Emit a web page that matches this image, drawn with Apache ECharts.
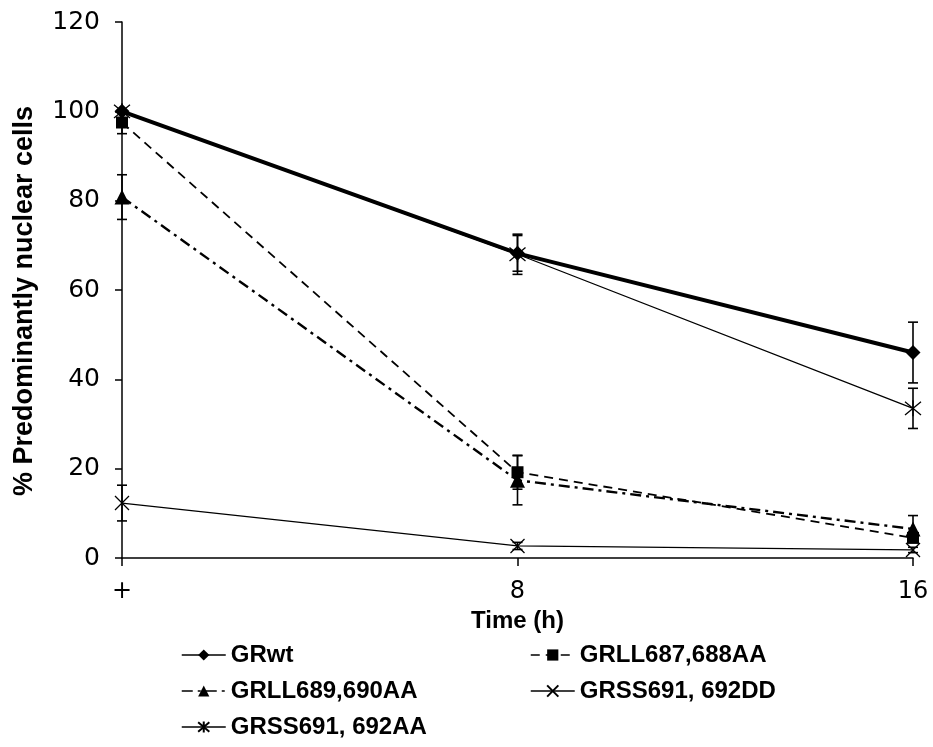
<!DOCTYPE html>
<html>
<head>
<meta charset="utf-8">
<script src="https://cdn.jsdelivr.net/npm/echarts@6/dist/echarts.min.js"></script>
<style>
html, body { margin: 0; padding: 0; background: #fff; }
#chart { width: 933px; height: 747px; }
</style>
</head>
<body>
<div id="chart"></div>
<script>
// time points (first one is the "+" control)
var times = ['+', '8', '16'];

// % predominantly nuclear cells, with +/- error
var grwt = [100, 68.2, 46];
var grwtErr = [0, 4, 6.8];
var grll687 = [97.5, 19.2, 4.5];
var grll687Err = [2.5, 3.8, 0];
var grll689 = [80.8, 17.4, 6.5];
var grll689Err = [5, 5.5, 3];
var grss691dd = [12.3, 2.7, 1.8];
var grss691ddErr = [4, 0.8, 0.6];
var grss691aa = [100, 68, 33.5];
var grss691aaErr = [0, 4.5, 4.5];

var FONT = 'Liberation Sans';
var xPath = 'path://M0,0L10,10M10,0L0,10';
var starPath = 'path://M0,0L10,10M10,0L0,10M5,-1L5,11';

function errData(vals, errs) {
    var out = [];
    for (var i = 0; i < vals.length; i++) {
        if (errs[i] > 0) out.push([i, vals[i] - errs[i], vals[i] + errs[i]]);
    }
    return out;
}

function errSeries(name, vals, errs) {
    return {
        name: 'err ' + name,
        type: 'custom',
        z: 1,
        data: errData(vals, errs),
        renderItem: function (params, api) {
            var lo = api.coord([api.value(0), api.value(1)]);
            var hi = api.coord([api.value(0), api.value(2)]);
            var w = 5;
            var st = { stroke: '#000', lineWidth: 1.6 };
            return {
                type: 'group',
                children: [
                    { type: 'line', shape: { x1: lo[0], y1: lo[1], x2: hi[0], y2: hi[1] }, style: st },
                    { type: 'line', shape: { x1: lo[0] - w, y1: lo[1], x2: lo[0] + w, y2: lo[1] }, style: st },
                    { type: 'line', shape: { x1: hi[0] - w, y1: hi[1], x2: hi[0] + w, y2: hi[1] }, style: st }
                ]
            };
        }
    };
}

var chart = echarts.init(document.getElementById('chart'));
var legendText = { fontFamily: FONT, fontSize: 24, fontWeight: 'bold', color: '#000' };

var option = {
    animation: false,
    backgroundColor: '#fff',
    grid: { left: 122, right: 20, top: 22, bottom: 189 },
    legend: [
        {
            left: 176, top: 638, orient: 'vertical', itemGap: 12, height: 130,
            itemWidth: 44, itemHeight: 14,
            textStyle: legendText,
            lineStyle: { width: 1.5 },
            data: ['GRwt', 'GRLL689,690AA', 'GRSS691, 692AA']
        },
        {
            left: 525, top: 638, orient: 'vertical', itemGap: 12, height: 130,
            itemWidth: 44, itemHeight: 14,
            textStyle: legendText,
            lineStyle: { width: 1.5 },
            data: ['GRLL687,688AA', 'GRSS691, 692DD']
        }
    ],
    xAxis: {
        type: 'category',
        data: times,
        boundaryGap: false,
        name: 'Time (h)',
        nameLocation: 'middle',
        nameGap: 30,
        nameTextStyle: { fontFamily: FONT, fontSize: 24, fontWeight: 'bold', color: '#000' },
        axisLine: { lineStyle: { color: '#000', width: 1.5 } },
        axisTick: { alignWithLabel: true, length: 8, lineStyle: { color: '#000', width: 1.5 } },
        axisLabel: { fontFamily: 'DejaVu Sans', fontSize: 24, color: '#000', margin: 22 },
        splitLine: { show: false }
    },
    yAxis: {
        type: 'value',
        min: 0, max: 120, interval: 20,
        name: '% Predominantly nuclear cells',
        nameLocation: 'middle',
        nameGap: 84,
        nameTextStyle: { fontFamily: FONT, fontSize: 27, fontWeight: 'bold', color: '#000', padding: [0, 22, 0, 0] },
        axisLine: { show: true, lineStyle: { color: '#000', width: 1.5 } },
        axisTick: { show: true, length: 7, lineStyle: { color: '#000', width: 1.5 } },
        axisLabel: { fontFamily: 'DejaVu Sans', fontSize: 25, color: '#000', margin: 22 },
        splitLine: { show: false }
    },
    series: [
        errSeries('GRwt', grwt, grwtErr),
        errSeries('GRLL687,688AA', grll687, grll687Err),
        errSeries('GRLL689,690AA', grll689, grll689Err),
        errSeries('GRSS691, 692DD', grss691dd, grss691ddErr),
        errSeries('GRSS691, 692AA', grss691aa, grss691aaErr),
        {
            name: 'GRwt', type: 'line', data: grwt, z: 3,
            symbol: 'diamond', symbolSize: 15,
            itemStyle: { color: '#000' },
            lineStyle: { color: '#000', width: 4 }
        },
        {
            name: 'GRLL687,688AA', type: 'line', data: grll687, z: 3,
            symbol: 'rect', symbolSize: 12,
            itemStyle: { color: '#000' },
            lineStyle: { color: '#000', width: 1.8, type: [9, 6] }
        },
        {
            name: 'GRLL689,690AA', type: 'line', data: grll689, z: 3,
            symbol: 'triangle', symbolSize: 15,
            itemStyle: { color: '#000' },
            lineStyle: { color: '#000', width: 2.4, type: [11, 5, 3, 5] }
        },
        {
            name: 'GRSS691, 692DD', type: 'line', data: grss691dd, z: 3,
            symbol: xPath, symbolSize: 14,
            itemStyle: { color: 'none', borderColor: '#000', borderWidth: 1.3 },
            lineStyle: { color: '#000', width: 1.2 }
        },
        {
            name: 'GRSS691, 692AA', type: 'line', data: grss691aa, z: 3,
            symbol: starPath, symbolSize: 16,
            itemStyle: { color: 'none', borderColor: '#000', borderWidth: 1.3 },
            lineStyle: { color: '#000', width: 1.3 }
        }
    ]
};
chart.setOption(option);
</script>
</body>
</html>
